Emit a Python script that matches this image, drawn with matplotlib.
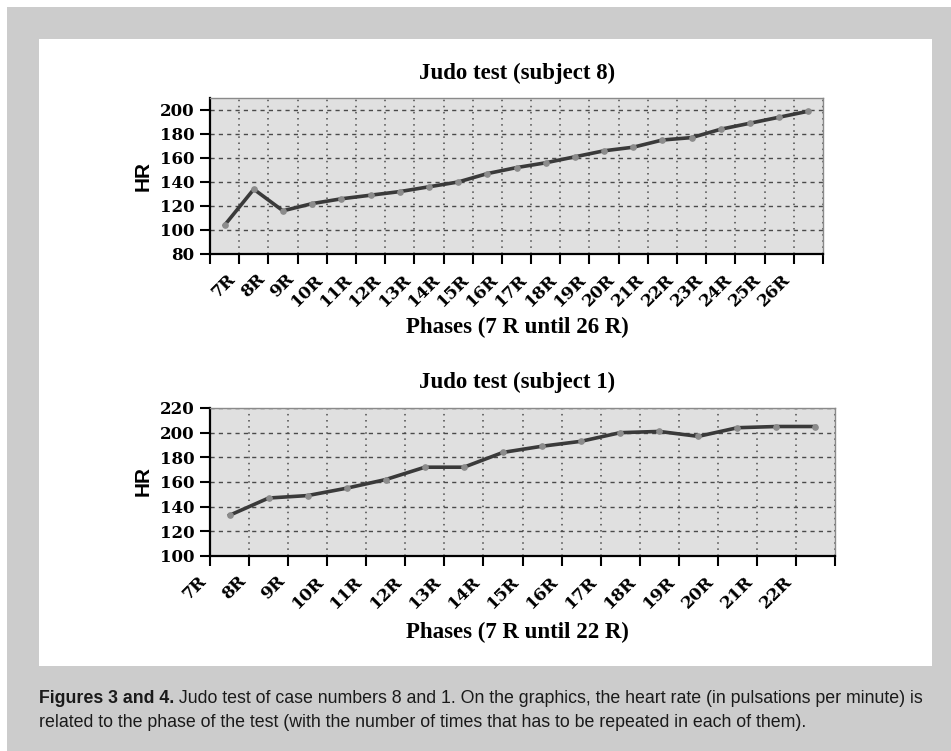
import matplotlib
matplotlib.use("Agg")
import matplotlib.pyplot as plt
from matplotlib.patches import Rectangle
from matplotlib import font_manager

# data
hr_subject8 = [104, 134, 116, 122, 126, 129, 132, 136, 140, 147, 152,
               156, 161, 166, 169, 175, 177, 184, 189, 194, 199]
phases_subject8 = [f"{n}R" for n in range(7, 27)]

hr_subject1 = [133, 147, 149, 155, 162, 172, 172, 184, 189, 193, 200,
               201, 197, 204, 205, 205]
phases_subject1 = [f"{n}R" for n in range(7, 23)]

caption_bold = "Figures 3 and 4."
caption_line1 = (" Judo test of case numbers 8 and 1. On the graphics, the heart rate "
                 "(in pulsations per minute) is")
caption_line2 = ("related to the phase of the test (with the number of times that has "
                 "to be repeated in each of them).")

W, H = 951, 751
installed = {f.name for f in font_manager.fontManager.ttflist}
narrow = "Liberation Sans Narrow" if "Liberation Sans Narrow" in installed else "Liberation Sans"
serif = "Liberation Serif"
tick_serif = "DejaVu Serif"

fig = plt.figure(figsize=(W / 100, H / 100), dpi=100)
fig.patch.set_facecolor("white")

# background frame (pixel coordinates, y downwards)
bg = fig.add_axes([0, 0, 1, 1])
bg.set_xlim(0, W)
bg.set_ylim(H, 0)
bg.axis("off")
bg.add_patch(Rectangle((7, 7), W - 7, H - 7, facecolor="#cccccc", edgecolor="none"))
bg.add_patch(Rectangle((39, 39), 932 - 39, 666 - 39, facecolor="white", edgecolor="none"))


def px_axes(left, top, right, bottom):
    return fig.add_axes([left / W, 1 - bottom / H, (right - left) / W, (bottom - top) / H])


def style_panel(ax, values, labels, ylim, yticks, label_offset):
    n = len(values)
    xs = [i + 0.5 for i in range(n)]
    ax.set_facecolor("#e0e0e0")
    ax.set_axisbelow(True)
    ax.plot(xs, values, color="#3a3a3a", linewidth=2.6, marker="o",
            markersize=3.8, markerfacecolor="#8c8c8c", markeredgecolor="#8c8c8c",
            zorder=3, solid_joinstyle="round")
    ax.set_xlim(0, n)
    ax.set_ylim(*ylim)
    ax.set_yticks(yticks)
    ticks = list(range(n + 1))
    ax.set_xticks(ticks)
    tick_labels = [""] * (n + 1)
    for k, lab in enumerate(labels):
        tick_labels[k + label_offset] = lab
    ax.set_xticklabels(tick_labels, rotation=45, ha="right", va="top",
                       family=tick_serif, fontweight="bold", fontsize=12.3)
    for t in ax.get_yticklabels():
        t.set_family(tick_serif)
        t.set_fontweight("bold")
        t.set_fontsize(12)
    ax.tick_params(axis="both", direction="out", length=7, width=1.5, color="black", pad=4)
    ax.tick_params(axis="x", pad=5)
    ax.yaxis.grid(True, linestyle=(0, (3, 3)), color="#4a4a4a", linewidth=1.0)
    ax.xaxis.grid(True, linestyle=(0, (1, 3)), color="#4a4a4a", linewidth=1.1)
    for side in ("left", "bottom"):
        ax.spines[side].set_color("black")
        ax.spines[side].set_linewidth(1.6)
    for side in ("top", "right"):
        ax.spines[side].set_color("#8a8a8a")
        ax.spines[side].set_linewidth(1.0)


ax1 = px_axes(210, 98, 823, 254)
style_panel(ax1, hr_subject8, phases_subject8, (80, 210), range(80, 201, 20), 1)

ax2 = px_axes(210, 408, 835, 556)
style_panel(ax2, hr_subject1, phases_subject1, (100, 220), range(100, 221, 20), 0)

title_kw = dict(family=serif, fontweight="bold", fontsize=16.5, ha="center", va="center")
bg.text(517, 73, "Judo test (subject 8)", **title_kw)
bg.text(517, 327, "Phases (7 R until 26 R)", **title_kw)
bg.text(517, 382, "Judo test (subject 1)", **title_kw)
bg.text(517, 632, "Phases (7 R until 22 R)", **title_kw)

hr_kw = dict(family="Liberation Sans", fontweight="bold", fontsize=15, rotation=90,
             ha="center", va="center")
bg.text(143, 176, "HR", **hr_kw)
bg.text(143, 481, "HR", **hr_kw)

# caption
cap_kw = dict(family=narrow, fontsize=12.8, color="#1a1a1a")
b = bg.text(39, 703, caption_bold, fontweight="bold", ha="left", va="baseline", **cap_kw)
bg.annotate(caption_line1, xy=(1, 0), xycoords=b, ha="left", va="bottom", **cap_kw)
bg.text(39, 727, caption_line2, ha="left", va="baseline", **cap_kw)

fig.savefig("out.png", dpi=100, facecolor=fig.get_facecolor())
